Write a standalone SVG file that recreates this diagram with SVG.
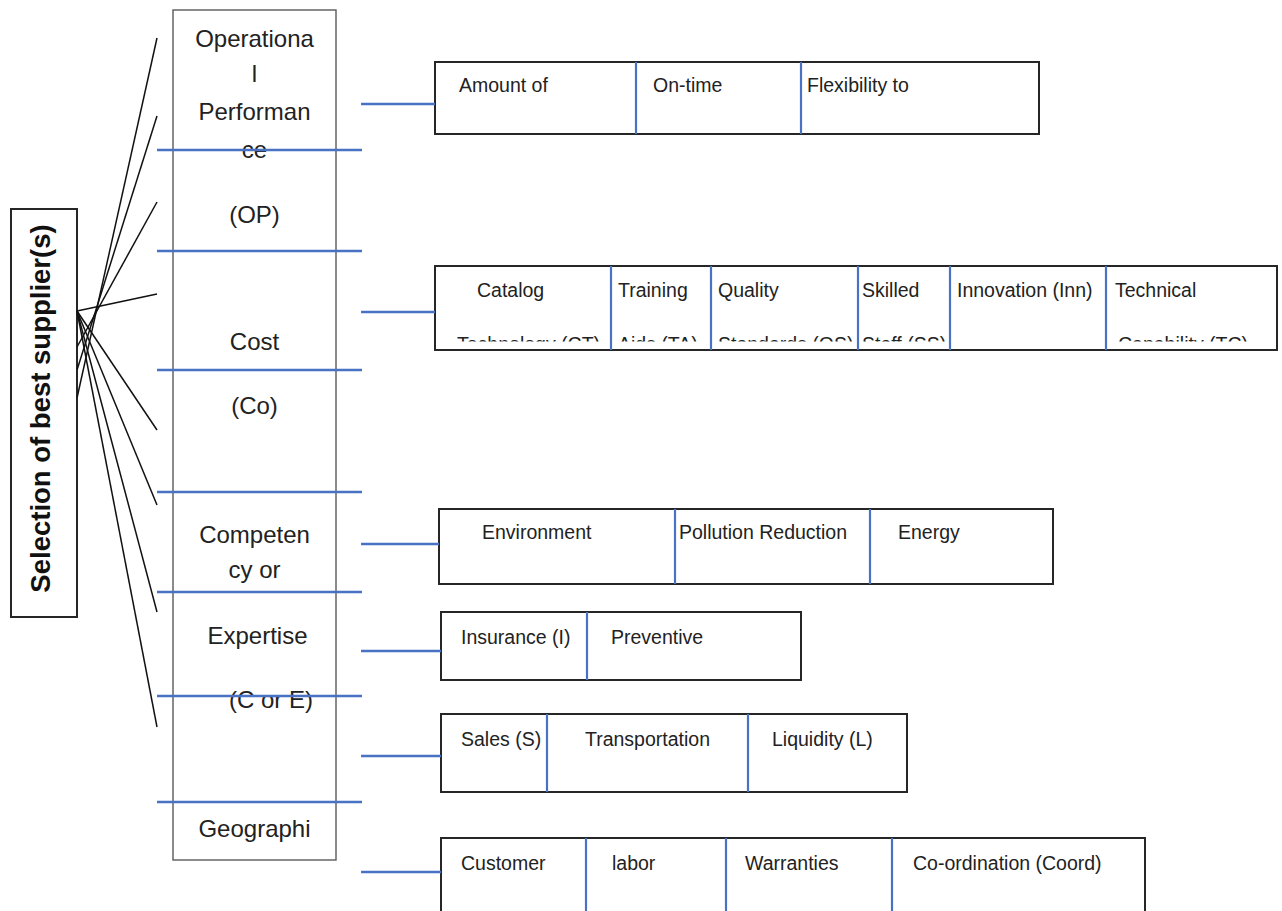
<svg xmlns="http://www.w3.org/2000/svg" width="1282" height="911" viewBox="0 0 1282 911">
<style>
.bg{fill:#fff}
.box{fill:#fff;stroke:#262626;stroke-width:2}
.main{fill:#fff;stroke:#5a5a5a;stroke-width:1.4}
.div{stroke:#4a72c4;stroke-width:2.2;fill:none}
.blue{stroke:#4a72c4;stroke-width:2.6;fill:none}
.fan{stroke:#111;stroke-width:1.5;fill:none}
.t{font-family:"Liberation Sans",Arial,sans-serif;font-size:19.5px;fill:#222}
.m{font-family:"Liberation Sans",Arial,sans-serif;font-size:24px;fill:#222;text-anchor:middle}
.root{font-family:"Liberation Sans",Arial,sans-serif;font-size:27.5px;font-weight:bold;fill:#111;text-anchor:middle}
</style>
<defs>
<clipPath id="costClip"><rect x="435" y="266" width="842" height="75.5"/></clipPath>
</defs>
<rect class="bg" x="0" y="0" width="1282" height="911"/>

<g id="root-node">
<rect class="box" x="11" y="209" width="66" height="408"/>
<text class="root" transform="translate(50,408.5) rotate(-90)">Selection of best supplier(s)</text>
</g>

<g id="criteria-column">
<rect class="main" x="173" y="10" width="163" height="850"/>
<text class="m" x="254.5" y="47">Operationa</text>
<text class="m" x="254.5" y="82">l</text>
<text class="m" x="254.5" y="120">Performan</text>
<text class="m" x="254.5" y="158">ce</text>
<text class="m" x="254.5" y="223">(OP)</text>
<text class="m" x="254.5" y="350">Cost</text>
<text class="m" x="254.5" y="414">(Co)</text>
<text class="m" x="254.5" y="543">Competen</text>
<text class="m" x="254.5" y="578">cy or</text>
<text class="m" x="257.5" y="644">Expertise</text>
<text class="m" x="271" y="708">(C or  E)</text>
<text class="m" x="254.5" y="837">Geographi</text>
</g>

<g id="op-subcriteria">
<rect class="box" x="435" y="62" width="604" height="72"/>
<line class="div" x1="636" y1="62" x2="636" y2="134"/>
<line class="div" x1="801" y1="62" x2="801" y2="134"/>
<text class="t" x="459" y="92">Amount of</text>
<text class="t" x="653" y="92">On-time</text>
<text class="t" x="807" y="92">Flexibility to</text>
</g>

<g id="cost-subcriteria">
<rect class="box" x="435" y="266" width="842" height="84"/>
<line class="div" x1="611" y1="266" x2="611" y2="350"/>
<line class="div" x1="711" y1="266" x2="711" y2="350"/>
<line class="div" x1="858" y1="266" x2="858" y2="350"/>
<line class="div" x1="950" y1="266" x2="950" y2="350"/>
<line class="div" x1="1106" y1="266" x2="1106" y2="350"/>
<text class="t" x="477" y="297">Catalog</text>
<text class="t" x="618" y="297">Training</text>
<text class="t" x="718" y="297">Quality</text>
<text class="t" x="862" y="297">Skilled</text>
<text class="t" x="957" y="297">Innovation (Inn)</text>
<text class="t" x="1115" y="297">Technical</text>
<g clip-path="url(#costClip)">
<text class="t" x="457" y="351" font-size="18">Technology (CT)</text>
<text class="t" x="618" y="351" font-size="18">Aids (TA)</text>
<text class="t" x="718" y="351" font-size="18">Standards (QS)</text>
<text class="t" x="862" y="351" font-size="18">Staff (SS)</text>
<text class="t" x="1118" y="351" font-size="18">Capability (TC)</text>
</g>
</g>

<g id="ce-subcriteria-1">
<rect class="box" x="439" y="509" width="614" height="75"/>
<line class="div" x1="675" y1="509" x2="675" y2="584"/>
<line class="div" x1="870" y1="509" x2="870" y2="584"/>
<text class="t" x="482" y="539">Environment</text>
<text class="t" x="679" y="539">Pollution Reduction</text>
<text class="t" x="898" y="539">Energy</text>
</g>

<g id="ce-subcriteria-2">
<rect class="box" x="441" y="612" width="360" height="68"/>
<line class="div" x1="587" y1="612" x2="587" y2="680"/>
<text class="t" x="461" y="644">Insurance (I)</text>
<text class="t" x="611" y="644">Preventive</text>
</g>

<g id="ce-subcriteria-3">
<rect class="box" x="441" y="714" width="466" height="78"/>
<line class="div" x1="547" y1="714" x2="547" y2="792"/>
<line class="div" x1="748" y1="714" x2="748" y2="792"/>
<text class="t" x="461" y="746">Sales (S)</text>
<text class="t" x="585" y="746">Transportation</text>
<text class="t" x="772" y="746">Liquidity (L)</text>
</g>

<g id="geo-subcriteria">
<rect class="box" x="441" y="838" width="704" height="90"/>
<line class="div" x1="586" y1="838" x2="586" y2="911"/>
<line class="div" x1="726" y1="838" x2="726" y2="911"/>
<line class="div" x1="892" y1="838" x2="892" y2="911"/>
<text class="t" x="461" y="870">Customer</text>
<text class="t" x="612" y="870">labor</text>
<text class="t" x="745" y="870">Warranties</text>
<text class="t" x="913" y="870">Co-ordination (Coord)</text>
</g>

<g id="connectors">
<line class="fan" x1="77" y1="398" x2="157" y2="38"/>
<line class="fan" x1="77" y1="370" x2="157" y2="116"/>
<line class="fan" x1="77" y1="347" x2="157" y2="202"/>
<line class="fan" x1="77" y1="311" x2="157" y2="294"/>
<line class="fan" x1="77" y1="311" x2="157" y2="430"/>
<line class="fan" x1="77" y1="311" x2="157" y2="505"/>
<line class="fan" x1="77" y1="311" x2="157" y2="612"/>
<line class="fan" x1="77" y1="311" x2="157" y2="727"/>
<line class="blue" x1="157" y1="150" x2="362" y2="150"/>
<line class="blue" x1="157" y1="251" x2="362" y2="251"/>
<line class="blue" x1="157" y1="370" x2="362" y2="370"/>
<line class="blue" x1="157" y1="492" x2="362" y2="492"/>
<line class="blue" x1="157" y1="592" x2="362" y2="592"/>
<line class="blue" x1="157" y1="696" x2="362" y2="696"/>
<line class="blue" x1="157" y1="802" x2="362" y2="802"/>
<line class="blue" x1="361" y1="104" x2="435" y2="104"/>
<line class="blue" x1="361" y1="312" x2="435" y2="312"/>
<line class="blue" x1="361" y1="544" x2="439" y2="544"/>
<line class="blue" x1="361" y1="651" x2="441" y2="651"/>
<line class="blue" x1="361" y1="756" x2="441" y2="756"/>
<line class="blue" x1="361" y1="872" x2="441" y2="872"/>
</g>
</svg>
